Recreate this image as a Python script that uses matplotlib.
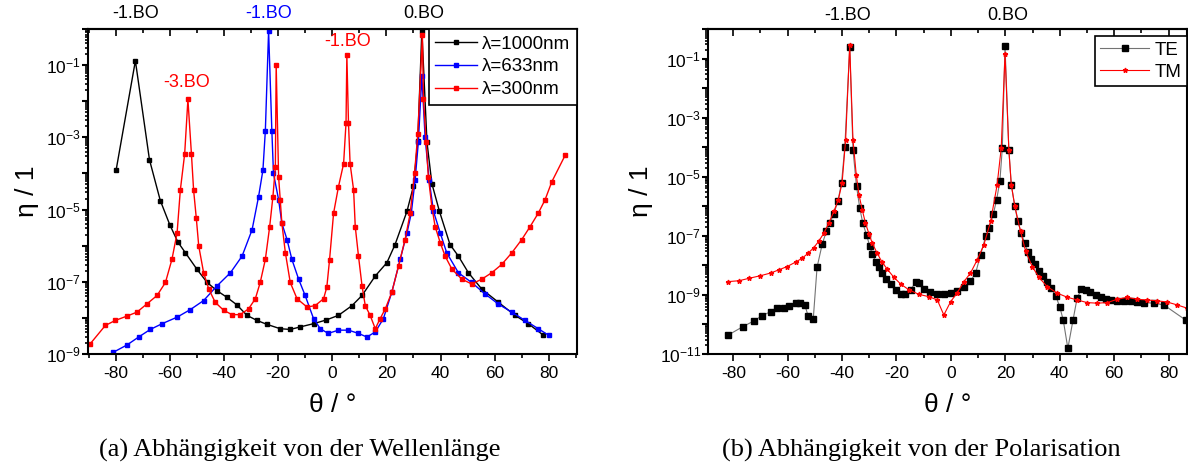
import numpy as np
import matplotlib
matplotlib.use('Agg')
import matplotlib.pyplot as plt
from matplotlib.ticker import LogLocator, FuncFormatter, MultipleLocator

plt.rcParams['font.family'] = ['Liberation Sans', 'DejaVu Sans']
plt.rcParams['axes.unicode_minus'] = False
plt.rcParams['mathtext.default'] = 'regular'

# ---- (a) wavelength dependence; eta given as log10 values
theta_1000 = [-79.8, -72.7, -67.5, -63.5, -60.0, -57.0, -54.2, -50.0, -46.2, -42.5, -38.9,
              -35.2, -31.5, -27.8, -24.1, -19.2, -15.5, -11.8, -6.9, -2.3, 2.3, 7.3, 11.0,
              15.9, 20.2, 23.2, 27.6, 30.0, 31.6, 33.1, 35.0, 36.8, 39.6, 43.5, 46.6, 50.3,
              55.2, 61.4, 67.5, 72.4, 78.0]
log_eta_1000 = [-3.9, -0.88, -3.62, -4.75, -5.42, -5.9, -6.2, -6.65, -7.02, -7.25, -7.43,
                -7.64, -7.93, -8.07, -8.18, -8.3, -8.32, -8.25, -8.16, -8.06, -7.93, -7.66, -7.38,
                -6.84, -6.47, -5.97, -5.05, -4.35, -3.09, -0.05, -3.14, -4.28, -5.05, -5.97, -6.29, -6.75,
                -7.2, -7.57, -7.93, -8.16, -8.48]

theta_633 = [-80.8, -75.8, -71.5, -67.2, -62.8, -57.3, -52.4, -47.5, -42.5, -37.6, -33.3,
             -29.6, -27.2, -25.6, -24.7, -23.5, -22.3, -21.7, -19.8, -18.6, -16.7, -14.9,
             -12.4, -10.0, -6.9, -4.4, -1.5, 2.3, 6.0, 9.7, 12.8, 15.9, 18.9, 22.0, 25.1,
             27.6, 29.2, 30.6, 31.8, 33.1, 34.3, 35.8, 37.4, 39.9, 42.3, 46.6, 51.5, 56.5,
             61.4, 66.3, 71.2, 76.1, 79.9]
log_eta_633 = [-8.95, -8.75, -8.53, -8.32, -8.16, -7.98, -7.77, -7.52, -7.11, -6.75, -6.29,
               -5.56, -4.64, -3.91, -2.82, -0.05, -2.82, -4.0, -4.73, -5.38, -5.83, -6.38,
               -6.93, -7.38, -8.02, -8.3, -8.43, -8.34, -8.34, -8.43, -8.53, -8.39, -8.02, -7.29, -6.38,
               -5.65, -5.1, -4.19, -3.14, -1.3, -3.0, -4.19, -5.05, -5.65, -6.2, -6.75, -7.02, -7.34,
               -7.62, -7.84, -8.07, -8.3, -8.48]

theta_300 = [-89.3, -83.8, -80.1, -75.8, -72.1, -68.4, -64.7, -61.6, -59.2, -57.3, -56.1,
             -54.5, -53.3, -52.0, -51.2, -50.2, -49.3, -47.5, -45.6, -43.2, -40.1, -37.0,
             -34.0, -30.9, -28.4, -26.6, -24.7, -23.1, -21.9, -21.0, -20.7, -19.8, -19.2,
             -18.6, -17.3, -15.5, -13.0, -9.3, -6.3, -3.2, -2.0, -1.0, 0.5, 2.3, 4.2, 5.1,
             5.4, 6.0, 6.6, 7.9, 8.5, 9.7, 11.0, 12.2, 14.0, 15.9, 17.7, 19.6, 22.0, 24.5,
             26.9, 28.8, 30.4, 31.6, 33.3, 33.7, 34.7, 35.5, 36.8, 38.0, 39.9, 41.7, 44.2,
             47.9, 51.5, 55.2, 58.9, 62.6, 66.3, 70.0, 73.1, 76.1, 78.6, 81.1, 86.0]
log_eta_300 = [-8.71, -8.21, -8.07, -7.95, -7.84, -7.61, -7.38, -7.02, -6.38, -5.65, -4.46,
               -3.46, -1.95, -3.46, -4.46, -5.24, -6.01, -6.75, -7.2, -7.57, -7.79, -7.91,
               -7.91, -7.75, -7.47, -7.02, -6.38, -5.47, -4.64, -3.82, -1.0, -4.1, -4.73,
               -5.38, -6.2, -7.02, -7.47, -7.7, -7.66, -7.47, -7.15, -6.4, -5.1, -4.37, -3.73, -2.59,
               -0.72, -2.59, -3.73, -4.46, -5.47, -6.29, -7.11, -7.66, -7.93, -8.3, -8.02, -7.75, -7.29, -6.56,
               -5.83, -5.1, -4.0, -2.91, -0.17, -1.95, -3.14, -4.1, -4.92, -5.47, -5.92, -6.29, -6.65,
               -6.93, -7.06, -6.93, -6.75, -6.52, -6.2, -5.83, -5.47, -5.1, -4.73, -4.23, -3.5]

# ---- (b) polarisation dependence
theta_te = [-81.9, -76.4, -72.4, -69.4, -66.3, -63.9, -61.4, -59.6, -57.1, -55.3, -53.7, -52.5,
            -50.6, -49.2, -47.3, -45.8, -44.5, -43.0, -41.5, -40.2, -39.0, -37.2, -36.0, -34.7,
            -33.5, -32.4, -31.0, -29.8, -28.9, -27.7, -26.5, -25.3, -23.8, -22.2, -20.3, -18.5,
            -16.7, -14.8, -13.0, -11.8, -9.9, -7.5, -5.0, -2.6, -0.1, 2.3, 4.8, 7.2, 9.1, 10.9,
            12.8, 14.0, 15.6, 16.8, 18.0, 18.9, 19.9, 21.3, 22.2, 23.5, 24.6, 25.9, 27.1, 28.3,
            29.5, 30.8, 32.4, 34.0, 35.4, 36.9, 38.5, 40.0, 41.3, 43.0, 44.9, 46.4, 47.9, 49.5,
            51.3, 53.2, 55.0, 56.9, 58.7, 61.1, 63.6, 66.1, 68.5, 71.0, 74.6, 78.3, 86.3]
log_eta_te = [-10.36, -10.07, -9.88, -9.7, -9.57, -9.45, -9.43, -9.37, -9.28, -9.28, -9.34, -9.71,
              -9.81, -8.06, -7.28, -6.85, -6.55, -6.25, -5.81, -5.2, -4.0, -0.62, -4.08, -5.32,
              -6.06, -6.57, -6.97, -7.36, -7.62, -7.87, -8.07, -8.26, -8.46, -8.64, -8.83, -8.98,
              -8.98, -8.83, -8.57, -8.6, -8.8, -8.91, -8.98, -8.98, -8.92, -8.86, -8.72, -8.53, -8.26, -7.64,
              -7.02, -6.74, -6.26, -5.78, -5.16, -4.03, -0.59, -4.08, -5.27, -6.0, -6.51, -6.91, -7.25, -7.56,
              -7.78, -7.96, -8.19, -8.36, -8.55, -8.78, -9.02, -9.4, -9.85, -10.81, -9.85, -9.11, -8.81, -8.83,
              -8.91, -9.0, -9.08, -9.15, -9.17, -9.2, -9.19, -9.19, -9.23, -9.26, -9.28, -9.34, -9.85]

theta_tm = [-81.9, -77.9, -74.3, -70.0, -66.3, -63.2, -60.2, -57.1, -54.7, -52.5, -50.4, -48.5,
            -46.7, -44.9, -43.0, -41.4, -40.0, -38.7, -37.2, -36.0, -34.8, -33.8, -32.6, -31.4,
            -30.1, -28.9, -27.1, -25.3, -23.4, -21.0, -18.5, -15.4, -11.8, -8.1, -5.0, -2.6,
            -0.1, 2.3, 4.8, 7.2, 9.7, 12.1, 14.6, 17.0, 18.5, 19.9, 21.3, 22.2, 23.5, 25.6, 27.5,
            29.9, 32.4, 35.4, 39.1, 42.8, 46.4, 50.1, 53.8, 57.5, 61.1, 64.8, 68.5, 72.2, 75.8,
            79.5, 83.2, 86.9]
log_eta_tm = [-8.55, -8.52, -8.44, -8.35, -8.26, -8.15, -8.04, -7.89, -7.76, -7.59, -7.4, -7.17,
              -6.91, -6.57, -6.17, -5.78, -5.21, -3.75, -0.55, -3.75, -4.93, -5.61, -6.12, -6.57,
              -6.94, -7.25, -7.59, -7.89, -8.13, -8.4, -8.63, -8.83, -8.98, -9.06, -9.17, -9.68,
              -9.23, -8.93, -8.55, -8.26, -7.81, -7.31, -6.51, -5.27, -4.03, -0.84, -4.08, -5.27, -6.0, -6.85, -7.53,
              -8.04, -8.41, -8.72, -8.94, -9.08, -9.17, -9.26, -9.28, -9.26, -9.15, -9.08, -9.15, -9.17, -9.2,
              -9.24, -9.34, -9.45]

# order labels: (text, theta, colour)
top_labels_a = [('-1.BO', -72.6, 'black'), ('-1.BO', -23.6, 'blue'), ('0.BO', 33.8, 'black')]
inner_labels_a = [('-3.BO', -53.7, 0.834, 'red'), ('-1.BO', 5.8, 0.96, 'red')]
top_labels_b = [('-1.BO', -37.8, 'black'), ('0.BO', 21.0, 'black')]

W, H = 1188, 470
fig = plt.figure(figsize=(W / 100, H / 100), dpi=100)
ax1 = fig.add_axes([88 / W, 1 - 354 / H, 489 / W, 325 / H])
ax2 = fig.add_axes([708 / W, 1 - 354 / H, 479 / W, 325 / H])


def odd_decades(v, pos):
    e = int(round(np.log10(v)))
    return r'$\mathdefault{10^{%d}}$' % e if e % 2 else ''


def style_axis(ax, xlim, ylim):
    ax.set_yscale('log')
    ax.set_xlim(*xlim)
    ax.set_ylim(*ylim)
    ax.xaxis.set_major_locator(MultipleLocator(20))
    ax.xaxis.set_minor_locator(MultipleLocator(10))
    ax.yaxis.set_major_locator(LogLocator(base=10, numticks=30))
    ax.yaxis.set_minor_locator(LogLocator(base=10, subs=np.arange(2, 10), numticks=30))
    ax.yaxis.set_major_formatter(FuncFormatter(odd_decades))
    ax.yaxis.set_minor_formatter(FuncFormatter(lambda v, p: ''))
    ax.tick_params(axis='x', which='major', direction='out', length=5, width=1.2,
                   labelsize=12.5, pad=4)
    ax.tick_params(axis='x', which='minor', direction='out', length=3, width=1.2)
    ax.tick_params(axis='y', which='major', direction='out', length=4, width=1.5,
                   labelsize=12.5, pad=1)
    ax.tick_params(axis='y', which='minor', direction='out', length=2.5, width=1.2)
    for s in ax.spines.values():
        s.set_linewidth(1.5)
    top = ax.secondary_xaxis('top')
    top.xaxis.set_major_locator(MultipleLocator(20))
    top.xaxis.set_minor_locator(MultipleLocator(10))
    top.tick_params(which='major', direction='in', length=5, width=1.2, labeltop=False)
    top.tick_params(which='minor', direction='in', length=3, width=1.2)
    top.spines['top'].set_linewidth(1.5)
    ax.set_xlabel('θ / °', fontsize=19, labelpad=8)
    ax.set_ylabel('η / 1', fontsize=19, labelpad=5)


# (a)
ax1.plot(theta_1000, 10 ** np.array(log_eta_1000), color='black', lw=1, marker='s', ms=3.5,
         label='λ=1000nm')
ax1.plot(theta_633, 10 ** np.array(log_eta_633), color='blue', lw=1, marker='s', ms=3.5,
         label='λ=633nm')
ax1.plot(theta_300, 10 ** np.array(log_eta_300), color='red', lw=1, marker='s', ms=3.5,
         label='λ=300nm')
style_axis(ax1, (-90.2, 90.4), (1e-9, 1))
leg = ax1.legend(loc='upper right', borderaxespad=0, fontsize=13.5, frameon=True, fancybox=False,
                 edgecolor='black', framealpha=1, handlelength=2.2, handletextpad=0.3,
                 labelspacing=0.3, borderpad=0.35, numpoints=1)
leg.get_frame().set_linewidth(1.2)
for txt, th, c in top_labels_a:
    ax1.text(th, 1.047, txt, color=c, fontsize=13, ha='center', va='center',
             transform=ax1.get_xaxis_transform())
for txt, th, yf, c in inner_labels_a:
    ax1.text(th, yf, txt, color=c, fontsize=13, ha='center', va='center',
             transform=ax1.get_xaxis_transform())

# (b)
ax2.plot(theta_te, 10 ** np.array(log_eta_te), color='0.45', lw=0.8, marker='s', ms=4,
         mfc='black', mec='black', label='TE')
ax2.plot(theta_tm, 10 ** np.array(log_eta_tm), color='red', lw=0.8, marker='*', ms=3.5,
         label='TM')
style_axis(ax2, (-89.3, 86.8), (1e-11, 1))
leg2 = ax2.legend(loc='upper right', bbox_to_anchor=(1.0, 0.978), borderaxespad=0, fontsize=13.5,
                  frameon=True, fancybox=False, edgecolor='black', framealpha=1,
                  handlelength=2.6, handletextpad=0.3, labelspacing=0.25, borderpad=0.3,
                  numpoints=1)
leg2.get_frame().set_linewidth(1.2)
for txt, th, c in top_labels_b:
    ax2.text(th, 1.04, txt, color=c, fontsize=13, ha='center', va='center',
             transform=ax2.get_xaxis_transform())

fig.text(300 / W, 1 - 450 / H, '(a) Abhängigkeit von der Wellenlänge', fontsize=19,
         family='Liberation Serif', ha='center', va='center')
fig.text(921 / W, 1 - 450 / H, '(b) Abhängigkeit von der Polarisation', fontsize=19,
         family='Liberation Serif', ha='center', va='center')

fig.savefig('out.png', dpi=100)
